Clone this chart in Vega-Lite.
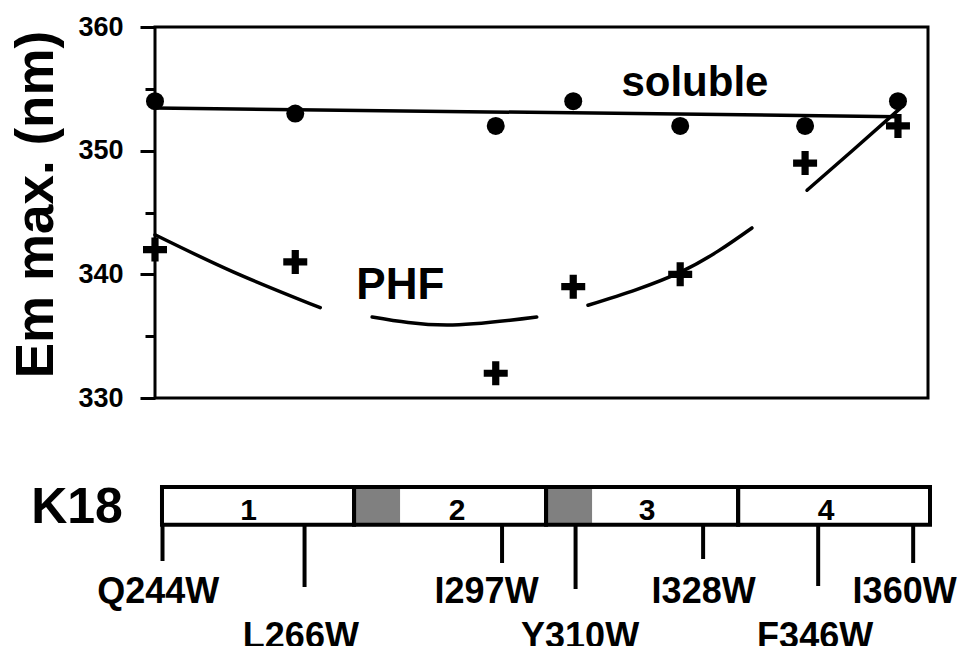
{
  "$schema": "https://vega.github.io/schema/vega-lite/v6.json",
  "autosize": "none",
  "padding": {"left": 155, "top": 27, "right": 804, "bottom": 619},
  "bounds": "flush",
  "spacing": 89,
  "background": "white",
  "config": {
    "font": "Liberation Sans",
    "view": {"stroke": "black", "strokeWidth": 3}
  },
  "datasets": {
    "solublePts": [
      {"name": "Q244W", "pos": 244, "em": 354},
      {"name": "L266W", "pos": 265.9, "em": 353},
      {"name": "I297W", "pos": 297.2, "em": 352},
      {"name": "Y310W", "pos": 309.3, "em": 354},
      {"name": "I328W", "pos": 326.0, "em": 352},
      {"name": "F346W", "pos": 345.5, "em": 352},
      {"name": "I360W", "pos": 360, "em": 354}
    ],
    "phfPts": [
      {"name": "Q244W", "pos": 244, "em": 342},
      {"name": "L266W", "pos": 265.9, "em": 341},
      {"name": "I297W", "pos": 297.2, "em": 332},
      {"name": "Y310W", "pos": 309.3, "em": 339},
      {"name": "I328W", "pos": 326.0, "em": 340},
      {"name": "F346W", "pos": 345.5, "em": 349},
      {"name": "I360W", "pos": 360, "em": 352}
    ],
    "solubleFit": [
      {"pos": 244, "em": 353.45},
      {"pos": 359.85, "em": 352.75}
    ],
    "phfFit": [
      {"seg": 1, "pos": 244, "em": 343.2},
      {"seg": 1, "pos": 256.2, "em": 340.2},
      {"seg": 1, "pos": 269.8, "em": 337.3},
      {"seg": 2, "pos": 277.9, "em": 336.55},
      {"seg": 2, "pos": 289.6, "em": 335.9},
      {"seg": 2, "pos": 303.6, "em": 336.55},
      {"seg": 3, "pos": 311.6, "em": 337.5},
      {"seg": 3, "pos": 326.1, "em": 340.2},
      {"seg": 3, "pos": 337.2, "em": 343.75},
      {"seg": 4, "pos": 345.8, "em": 346.8},
      {"seg": 4, "pos": 353.0, "em": 350.05},
      {"seg": 4, "pos": 360.3, "em": 353.4}
    ],
    "notes": [
      {"text": "soluble", "pos": 328.3, "em": 354.42, "size": 42},
      {"text": "PHF", "pos": 282.3, "em": 338.0, "size": 44}
    ],
    "repeats": [
      {"r": "1", "start": 243.92, "end": 273.6, "mid": 257.29, "top": 1, "bottom": 0, "labelY": 0.128},
      {"r": "2", "start": 273.6, "end": 303.27, "mid": 289.52, "top": 1, "bottom": 0, "labelY": 0.128},
      {"r": "3", "start": 303.27, "end": 332.95, "mid": 318.88, "top": 1, "bottom": 0, "labelY": 0.128},
      {"r": "4", "start": 332.95, "end": 362.6, "mid": 346.55, "top": 1, "bottom": 0, "labelY": 0.128}
    ],
    "grayboxes": [
      {"start": 273.6, "end": 280.71, "top": 1, "bottom": 0},
      {"start": 303.27, "end": 310.38, "top": 1, "bottom": 0}
    ],
    "mutations": [
      {"name": "Q244W", "pos": 244.0, "labelPos": 243.35, "base": 0, "tickEnd": -0.955, "labelY": -2.064},
      {"name": "L266W", "pos": 265.95, "labelPos": 265.38, "base": 0, "tickEnd": -1.642, "labelY": -3.24},
      {"name": "I297W", "pos": 296.47, "labelPos": 294.08, "base": 0, "tickEnd": -1.008, "labelY": -2.064},
      {"name": "Y310W", "pos": 307.83, "labelPos": 308.53, "base": 0, "tickEnd": -1.694, "labelY": -3.24},
      {"name": "I328W", "pos": 327.54, "labelPos": 327.62, "base": 0, "tickEnd": -0.902, "labelY": -2.064},
      {"name": "F346W", "pos": 345.32, "labelPos": 344.85, "base": 0, "tickEnd": -1.615, "labelY": -3.24},
      {"name": "I360W", "pos": 360.0, "labelPos": 358.68, "base": 0, "tickEnd": -1.008, "labelY": -2.064}
    ],
    "construct": [
      {"text": "K18", "pos": 230.79, "y": 0.049}
    ]
  },
  "vconcat": [
    {
      "width": 773,
      "height": 371,
      "layer": [
        {
          "data": {"name": "solubleFit"},
          "mark": {"type": "line", "color": "black", "strokeWidth": 3.5, "strokeCap": "round"},
          "encoding": {
            "x": {"field": "pos", "type": "quantitative", "scale": {"domain": [244, 364.69], "nice": false, "zero": false}, "axis": null},
            "y": {
              "field": "em", "type": "quantitative",
              "scale": {"domain": [330, 360], "nice": false, "zero": false},
              "axis": {
                "title": "Em max. (nm)",
                "titleFontSize": 53, "titleFontWeight": "bold", "titleColor": "black", "titleFont": "Liberation Sans",
                "titleX": -92, "titleY": 177,
                "values": [330, 335, 340, 345, 350, 355, 360],
                "labelExpr": "datum.value % 10 === 0 ? datum.label : ''",
                "labelFontSize": 27, "labelFontWeight": "bold", "labelColor": "black", "labelFont": "Liberation Sans",
                "labelPadding": 17, "labelOverlap": false, "labelFlush": false,
                "tickSize": {"condition": {"test": "datum.value % 10 === 0", "value": 15}, "value": 10},
                "tickWidth": 3, "tickColor": "black",
                "domain": false, "grid": false
              }
            }
          }
        },
        {
          "data": {"name": "phfFit"},
          "mark": {"type": "line", "color": "black", "strokeWidth": 3.5, "strokeCap": "round", "interpolate": "natural"},
          "encoding": {
            "x": {"field": "pos", "type": "quantitative"},
            "y": {"field": "em", "type": "quantitative"},
            "detail": {"field": "seg", "type": "nominal"}
          }
        },
        {
          "data": {"name": "solublePts"},
          "mark": {"type": "point", "shape": "circle", "filled": true, "color": "black", "opacity": 1, "size": 324},
          "encoding": {
            "x": {"field": "pos", "type": "quantitative"},
            "y": {"field": "em", "type": "quantitative"}
          }
        },
        {
          "data": {"name": "phfPts"},
          "mark": {"type": "point", "shape": "M-1,-0.3H-0.3V-1H0.3V-0.3H1V0.3H0.3V1H-0.3V0.3H-1Z", "filled": true, "color": "black", "opacity": 1, "size": 576},
          "encoding": {
            "x": {"field": "pos", "type": "quantitative"},
            "y": {"field": "em", "type": "quantitative"}
          }
        },
        {
          "data": {"name": "notes"},
          "mark": {"type": "text", "font": "Liberation Sans", "fontWeight": "bold", "align": "center", "baseline": "alphabetic", "color": "black"},
          "encoding": {
            "x": {"field": "pos", "type": "quantitative"},
            "y": {"field": "em", "type": "quantitative"},
            "text": {"field": "text", "type": "nominal"},
            "size": {"field": "size", "type": "quantitative", "scale": null}
          }
        }
      ]
    },
    {
      "width": 775,
      "height": 159,
      "view": {"stroke": null},
      "layer": [
        {
          "data": {"name": "repeats"},
          "mark": {"type": "rect", "fill": "white"},
          "encoding": {
            "x": {"field": "start", "type": "quantitative", "scale": {"domain": [242.84, 362.6], "nice": false, "zero": false}, "axis": null},
            "x2": {"field": "end"},
            "y": {"field": "top", "type": "quantitative", "scale": {"domain": [-3.2, 1], "nice": false, "zero": false}, "axis": null},
            "y2": {"field": "bottom"}
          }
        },
        {
          "data": {"name": "grayboxes"},
          "mark": {"type": "rect", "fill": "#808080"},
          "encoding": {
            "x": {"field": "start", "type": "quantitative"},
            "x2": {"field": "end"},
            "y": {"field": "top", "type": "quantitative"},
            "y2": {"field": "bottom"}
          }
        },
        {
          "data": {"name": "repeats"},
          "mark": {"type": "rect", "fillOpacity": 0, "stroke": "black", "strokeWidth": 4},
          "encoding": {
            "x": {"field": "start", "type": "quantitative"},
            "x2": {"field": "end"},
            "y": {"field": "top", "type": "quantitative"},
            "y2": {"field": "bottom"}
          }
        },
        {
          "data": {"name": "mutations"},
          "mark": {"type": "rule", "color": "black", "strokeWidth": 4},
          "encoding": {
            "x": {"field": "pos", "type": "quantitative"},
            "y": {"field": "base", "type": "quantitative"},
            "y2": {"field": "tickEnd"}
          }
        },
        {
          "data": {"name": "mutations"},
          "mark": {"type": "text", "font": "Liberation Sans", "fontWeight": "bold", "fontSize": 36, "align": "center", "baseline": "alphabetic", "color": "black"},
          "encoding": {
            "x": {"field": "labelPos", "type": "quantitative"},
            "y": {"field": "labelY", "type": "quantitative"},
            "text": {"field": "name", "type": "nominal"}
          }
        },
        {
          "data": {"name": "repeats"},
          "mark": {"type": "text", "font": "Liberation Sans", "fontWeight": "bold", "fontSize": 30, "align": "center", "baseline": "alphabetic", "color": "black"},
          "encoding": {
            "x": {"field": "mid", "type": "quantitative"},
            "y": {"field": "labelY", "type": "quantitative"},
            "text": {"field": "r", "type": "nominal"}
          }
        },
        {
          "data": {"name": "construct"},
          "mark": {"type": "text", "font": "Liberation Sans", "fontWeight": "bold", "fontSize": 50, "align": "center", "baseline": "alphabetic", "color": "black"},
          "encoding": {
            "x": {"field": "pos", "type": "quantitative"},
            "y": {"field": "y", "type": "quantitative"},
            "text": {"field": "text", "type": "nominal"}
          }
        }
      ]
    }
  ]
}
